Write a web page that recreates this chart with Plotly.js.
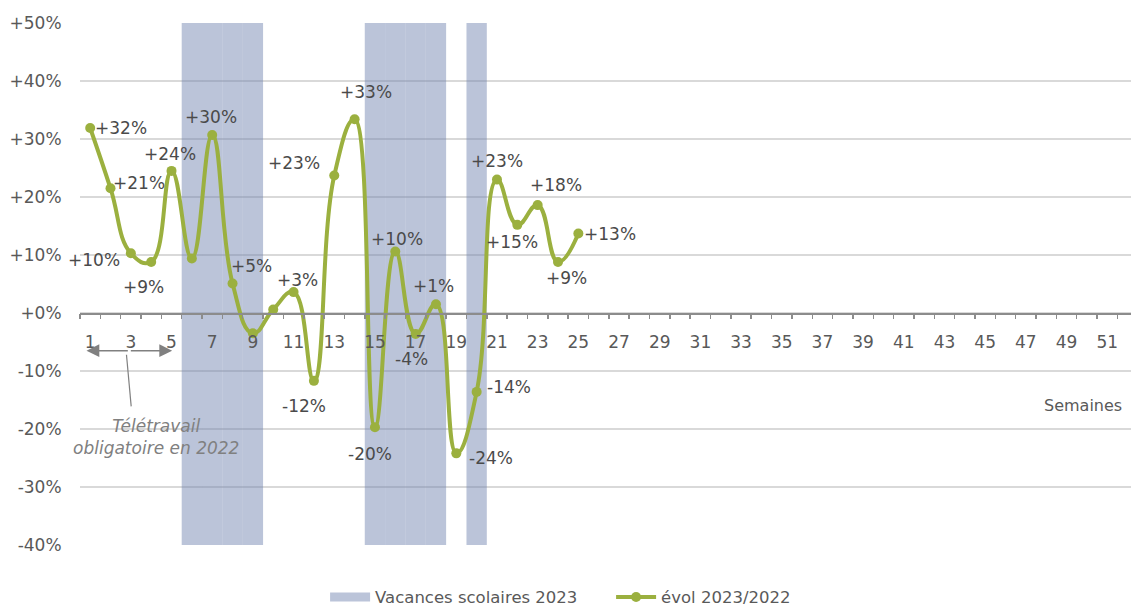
<!DOCTYPE html>
<html>
<head>
<meta charset="utf-8">
<script src="https://cdn.plot.ly/plotly-3.0.1.min.js"></script>
<style>
  html, body { margin: 0; padding: 0; background: #ffffff; }
  #chart { width: 1131px; height: 608px; }
</style>
</head>
<body>
<div id="chart"></div>
<script>
// ---- Data ----
const weeks = [1, 2, 3, 4, 5, 6, 7, 8, 9, 10, 11, 12, 13, 14, 15, 16, 17, 18, 19, 20, 21, 22, 23, 24, 25];
const evol = [31.9, 21.5, 10.3, 8.8, 24.5, 9.4, 30.7, 5.1, -3.5, 0.6, 3.6, -11.7, 23.7, 33.4, -19.7, 10.6, -3.6, 1.5, -24.2, -13.6, 23.0, 15.2, 18.6, 8.8, 13.7];
const evolLabels = ['+32%', '+21%', '+10%', '+9%', '+24%', '', '+30%', '+5%', '', '', '+3%', '-12%', '+23%', '+33%', '-20%', '+10%', '-4%', '+1%', '-24%', '-14%', '+23%', '+15%', '+18%', '+9%', '+13%'];
const vacancesWeeks = [6, 7, 8, 9, 15, 16, 17, 18, 20];
const yTickVals = [-40, -30, -20, -10, 0, 10, 20, 30, 40, 50];
const yTickText = ['-40%', '-30%', '-20%', '-10%', '+0%', '+10%', '+20%', '+30%', '+40%', '+50%'];
const xTickVals = [1, 3, 5, 7, 9, 11, 13, 15, 17, 19, 21, 23, 25, 27, 29, 31, 33, 35, 37, 39, 41, 43, 45, 47, 49, 51];
const seriesNames = ['Vacances scolaires 2023', 'évol 2023/2022'];
const yMin = -40, yMax = 50;

// ---- Styling (label offsets in pixels: [dx, dy up]) ----
const labelOffsets = [
  [31, 0], [28, 5], [-37, -7], [-8, -25], [-2, 17], [0, 0], [-1, 18], [19, 17], [0, 0], [0, 0],
  [4, 12], [-10, -25], [-40, 13], [11, 27], [-5, -27], [2, 13], [-4, -25], [-2, 18], [35, -5], [32, 5],
  [0, 19], [-5, -17], [18, 20], [8, -16], [32, 0]
];
const FONT = 'DejaVu Sans, Liberation Sans, sans-serif';
const green = '#9bb03f';
const band = 'rgba(110,130,175,0.47)';
const bandSolid = '#bbc4d9';
const gray = '#8c8c8c';
const textCol = '#595959';

const bandTrace = {
  type: 'bar',
  x: vacancesWeeks,
  y: vacancesWeeks.map(() => yMax - yMin),
  base: vacancesWeeks.map(() => yMin),
  width: 1,
  marker: { color: band, line: { width: 0 } },
  hoverinfo: 'skip',
  showlegend: false
};
const bandLegend = {
  type: 'scatter', mode: 'lines',
  x: [null], y: [null],
  name: seriesNames[0],
  line: { color: bandSolid, width: 9 },
  showlegend: true
};
const lineTrace = {
  type: 'scatter', mode: 'lines+markers',
  x: weeks, y: evol,
  name: seriesNames[1],
  line: { color: green, width: 4, shape: 'spline', smoothing: 1.3 },
  marker: { color: green, size: 10 }
};

const annotations = weeks.map((w, i) => ({
  x: w, y: evol[i], xref: 'x', yref: 'y',
  text: evolLabels[i], showarrow: false,
  xshift: labelOffsets[i][0], yshift: labelOffsets[i][1],
  font: { family: FONT, size: 17, color: '#4a4a4a' }
})).filter(a => a.text !== '');

// Télétravail annotation: double arrow
const arrowY = -6.5, arrowL = 0.82, arrowR = 5.03, arrowMid = (arrowL + arrowR) / 2;
[arrowL, arrowR].forEach(xe => annotations.push({
  x: xe, y: arrowY, xref: 'x', yref: 'y',
  ax: arrowMid, ay: arrowY, axref: 'x', ayref: 'y',
  text: '', showarrow: true, arrowhead: 2, arrowsize: 1.6, arrowwidth: 1.6,
  arrowcolor: '#808080', standoff: 0, startstandoff: 0
}));
annotations.push({
  x: 4.26, y: -21.3, xref: 'x', yref: 'y',
  text: '<i>Télétravail</i><br><i>obligatoire en 2022</i>', showarrow: false,
  align: 'center',
  font: { family: FONT, size: 17, color: '#808080' }
});
annotations.push({
  x: 1, y: -16, xref: 'paper', yref: 'y', xanchor: 'right',
  xshift: -7, text: 'Semaines', showarrow: false,
  font: { family: FONT, size: 16, color: textCol }
});

const zeroPos = (0 - yMin) / (yMax - yMin);
const xRange = [0.5, 52.17];

const layout = {
  width: 1131, height: 608,
  margin: { l: 80, r: 0, t: 23, b: 63, autoexpand: false },
  paper_bgcolor: '#ffffff', plot_bgcolor: '#ffffff',
  font: { family: FONT, size: 17, color: textCol },
  showlegend: true,
  legend: {
    orientation: 'h', x: 0.2332, xanchor: 'left', y: -0.1, yanchor: 'middle',
    font: { family: FONT, size: 16.5, color: textCol },
    itemwidth: 40, traceorder: 'normal',
    entrywidth: 231, entrywidthmode: 'pixels'
  },
  xaxis: {
    type: 'linear', range: xRange, anchor: 'free', position: zeroPos,
    tickvals: xTickVals, ticktext: xTickVals.map(String),
    ticks: 'outside', ticklen: 13, tickcolor: 'rgba(0,0,0,0)',
    showline: true, linecolor: gray, linewidth: 1.5,
    showgrid: false, zeroline: false, fixedrange: true,
    tickfont: { family: FONT, size: 17, color: textCol }
  },
  xaxis2: {
    type: 'linear', range: xRange, overlaying: 'x', anchor: 'free', position: zeroPos,
    tickmode: 'linear', tick0: 0.5, dtick: 1,
    ticks: 'outside', ticklen: 5, tickcolor: gray, tickwidth: 1.5,
    showticklabels: false, showline: false, showgrid: false, zeroline: false
  },
  yaxis: {
    range: [yMin, yMax], domain: [0, 1],
    tickvals: yTickVals, ticktext: yTickText,
    ticks: 'outside', ticklen: 14, tickcolor: 'rgba(0,0,0,0)',
    showgrid: true, gridcolor: '#d9d9d9', gridwidth: 1.5,
    zeroline: false, showline: false, fixedrange: true,
    tickfont: { family: FONT, size: 17, color: textCol }
  },
  annotations: annotations,
  shapes: [{
    type: 'line', xref: 'x', yref: 'y',
    x0: 2.785, y0: -7.2, x1: 3.016, y1: -16.1,
    line: { color: '#808080', width: 1.2 }
  }]
};

const dummyAxis2 = { type: 'scatter', x: [null], y: [null], xaxis: 'x2', showlegend: false, hoverinfo: 'skip' };

Plotly.newPlot('chart', [bandTrace, bandLegend, lineTrace, dummyAxis2], layout, { displayModeBar: false, staticPlot: true });
</script>
</body>
</html>
